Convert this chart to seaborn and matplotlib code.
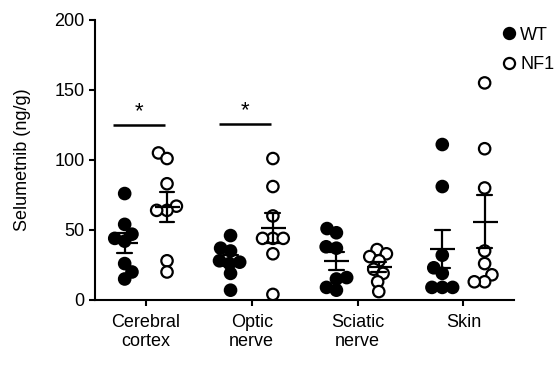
import matplotlib
matplotlib.use("Agg")
import matplotlib.pyplot as plt
from matplotlib.lines import Line2D
import seaborn as sns
import pandas as pd
import numpy as np

# ---- data ----
tissues = ["Cerebral\ncortex", "Optic\nnerve", "Sciatic\nnerve", "Skin"]
genotypes = ["WT", "NF1"]
wt_cortex = [76, 54, 47, 44, 42, 26, 20, 15]
nf1_cortex = [105, 101, 83, 67, 64, 64, 28, 20]
wt_optic = [46, 37, 35, 28, 27, 26, 19, 7]
nf1_optic = [101, 81, 60, 44, 44, 44, 33, 4]
wt_sciatic = [51, 48, 38, 37, 16, 15, 9, 7]
nf1_sciatic = [36, 33, 31, 28, 22, 19, 13, 6]
wt_skin = [111, 81, 32, 23, 19, 9, 9, 9]
nf1_skin = [155, 108, 80, 35, 26, 18, 13, 13]
sig_tissues = [0, 1]          # tissues with significant WT vs NF1
sig_level = [125, 126]        # y of significance bars
y_ticks = [0, 50, 100, 150, 200]
y_label = "Selumetnib (ng/g)"

groups = {
    (tissues[0], "WT"): wt_cortex, (tissues[0], "NF1"): nf1_cortex,
    (tissues[1], "WT"): wt_optic, (tissues[1], "NF1"): nf1_optic,
    (tissues[2], "WT"): wt_sciatic, (tissues[2], "NF1"): nf1_sciatic,
    (tissues[3], "WT"): wt_skin, (tissues[3], "NF1"): nf1_skin,
}
rows = []
for (t, g), vals in groups.items():
    for v in vals:
        rows.append({"tissue": t, "genotype": g, "value": v})
df = pd.DataFrame(rows)

sns.set_style("white")
plt.rcParams["font.family"] = ["Liberation Sans", "DejaVu Sans"]
plt.rcParams["text.color"] = "black"
plt.rcParams["axes.labelcolor"] = "black"
plt.rcParams["xtick.color"] = "black"
plt.rcParams["ytick.color"] = "black"

fig = plt.figure(figsize=(5.59, 3.75), dpi=100)
ax = fig.add_axes([0.170, 0.200, 0.750, 0.747])
ax.set_xlim(-0.48, 3.48)
ax.set_ylim(0, 200)

# swarm layout computed with a smaller marker, then markers enlarged so that
# they overlap like in the reference
sns.swarmplot(data=df, x="tissue", y="value", hue="genotype", order=tissues,
              hue_order=genotypes, palette={"WT": "black", "NF1": "white"},
              dodge=True, size=5.5, linewidth=1.6, edgecolor="black",
              legend=False, ax=ax, zorder=2)
ax.set_xlim(-0.48, 3.48)
ax.set_ylim(0, 200)
fig.canvas.draw()
for coll in ax.collections:
    if "draw" in coll.__dict__:
        del coll.draw
    coll.set_sizes([8.2 ** 2])

sns.pointplot(data=df, x="tissue", y="value", hue="genotype", order=tissues,
              hue_order=genotypes, palette={"WT": "black", "NF1": "black"},
              dodge=0.4, errorbar="se", capsize=0.14, markers="_",
              markersize=18, markeredgewidth=1.6, linestyles="none",
              err_kws={"linewidth": 1.6}, legend=False, ax=ax)
for ln in ax.lines:
    ln.set_zorder(3)

# significance bars
for i, yv in zip(sig_tissues, sig_level):
    ax.plot([i - 0.31, i + 0.18], [yv, yv], color="black", lw=1.8,
            solid_capstyle="butt")
    ax.text(i - 0.065, yv + 2, "*", ha="center", va="bottom", fontsize=16,
            color="black")

ax.set_xlim(-0.48, 3.48)
ax.set_ylim(0, 200)
ax.set_yticks(y_ticks)
ax.set_xlabel("")
ax.set_ylabel(y_label, fontsize=13, labelpad=17, color="black")
ax.tick_params(axis="both", labelsize=13, length=4, width=1.5,
               direction="out", color="black", labelcolor="black",
               left=True, bottom=True)
ax.tick_params(axis="x", pad=6)
for s in ["top", "right"]:
    ax.spines[s].set_visible(False)
for s in ["left", "bottom"]:
    ax.spines[s].set_linewidth(1.5)
    ax.spines[s].set_color("black")

handles = [Line2D([], [], marker="o", ls="none", color="black",
                  markerfacecolor="black", markersize=8, markeredgewidth=1.6),
           Line2D([], [], marker="o", ls="none", color="black",
                  markerfacecolor="white", markersize=8, markeredgewidth=1.6)]
leg = fig.legend(handles, genotypes, loc="upper left",
                 bbox_to_anchor=(0.879, 0.948), frameon=False, fontsize=13,
                 handletextpad=0.0, labelspacing=0.7, borderaxespad=0,
                 handlelength=1.2)
for t in leg.get_texts():
    t.set_color("black")

fig.savefig("out.png", dpi=100)
